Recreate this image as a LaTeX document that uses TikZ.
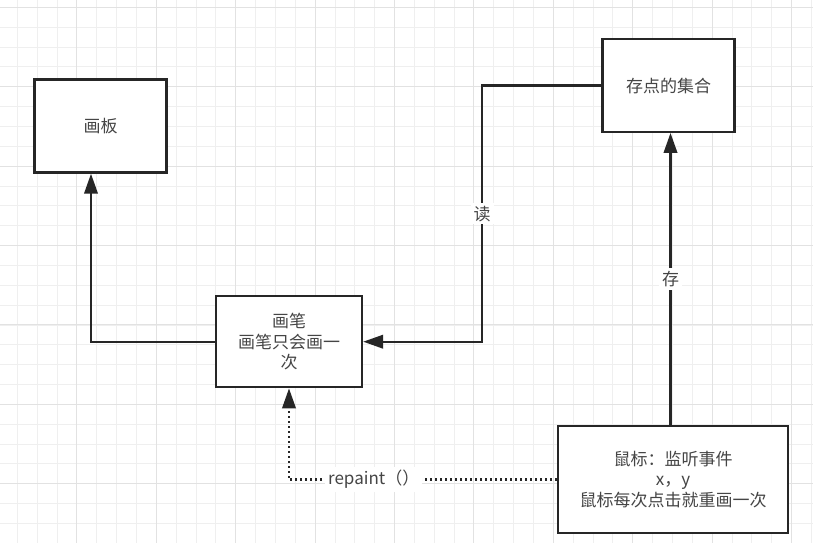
\documentclass[tikz,border=0pt]{standalone}
\usepackage{fontspec}
\setmainfont{Noto Sans CJK SC}
\usetikzlibrary{arrows.meta}
\definecolor{gridminor}{HTML}{EFEFEF}
\definecolor{gridmajor}{HTML}{E2E2E2}
\definecolor{linec}{HTML}{262626}
\definecolor{textc}{HTML}{454545}
\tikzset{
  box/.style={draw=linec, line width=2.4pt, fill=white, text=textc, align=center,
    font=\fontsize{17}{20.5}\selectfont, inner sep=2pt},
  conn/.style={draw=linec, line width=2.2pt, -{Triangle[length=20pt,width=13.5pt]}},
  dotconn/.style={conn, dash pattern=on 2pt off 3pt},
  lbl/.style={fill=white, text=textc, font=\fontsize{17}{20}\selectfont, inner sep=3pt}
}
\begin{document}
\begin{tikzpicture}[x=1pt,y=-1pt]
\useasboundingbox (0,0) rectangle (813,543);
\fill[white] (0,0) rectangle (813,543);
% grid
\foreach \k in {0,...,40}{
  \pgfmathsetmacro\xx{17.3+\k*19.85}
  \draw[gridminor, line width=0.8pt] (\xx,0) -- (\xx,543);
}
\foreach \k in {0,...,26}{
  \pgfmathsetmacro\yy{7.3+\k*19.85}
  \draw[gridminor, line width=0.8pt] (0,\yy) -- (813,\yy);
}
\foreach \k in {0,...,9}{
  \pgfmathsetmacro\xx{76.85+\k*79.4}
  \draw[gridmajor, line width=0.9pt] (\xx,0) -- (\xx,543);
}
\foreach \k in {0,...,6}{
  \pgfmathsetmacro\yy{7.3+\k*79.4}
  \draw[gridmajor, line width=0.9pt] (0,\yy) -- (813,\yy);
}
% nodes
\node[box, minimum width=132pt, minimum height=93pt] (board) at (100.5,126) {画板};
\node[box, minimum width=132pt, minimum height=92.5pt] (store) at (668.5,85.5) {存点的集合};
\node[box, minimum width=146pt, minimum height=91pt] (pen) at (289,341.7) {画笔\\画笔只会画一\\次};
\node[box, minimum width=229.5pt, minimum height=107.5pt] (mouse) at (673,479.5) {鼠标：监听事件\\x，y\\鼠标每次点击就重画一次};
% connectors
\coordinate (c1) at (482,85.5);
\coordinate (c2) at (482,341.7);
\draw[conn] (pen.west) -| ([xshift=-9.5pt]board.south);
\draw[conn] (store.west) -- (c1) -- node[lbl]{读} (c2) -- (pen.east);
\draw[conn] ([xshift=-2.5pt]mouse.north) -- node[lbl]{存} ([xshift=-2.5pt]mouse.north |- store.south);
\draw[dotconn] (mouse.west) -| node[lbl, pos=0.342]{repaint（）} (pen.south);
\end{tikzpicture}
\end{document}
